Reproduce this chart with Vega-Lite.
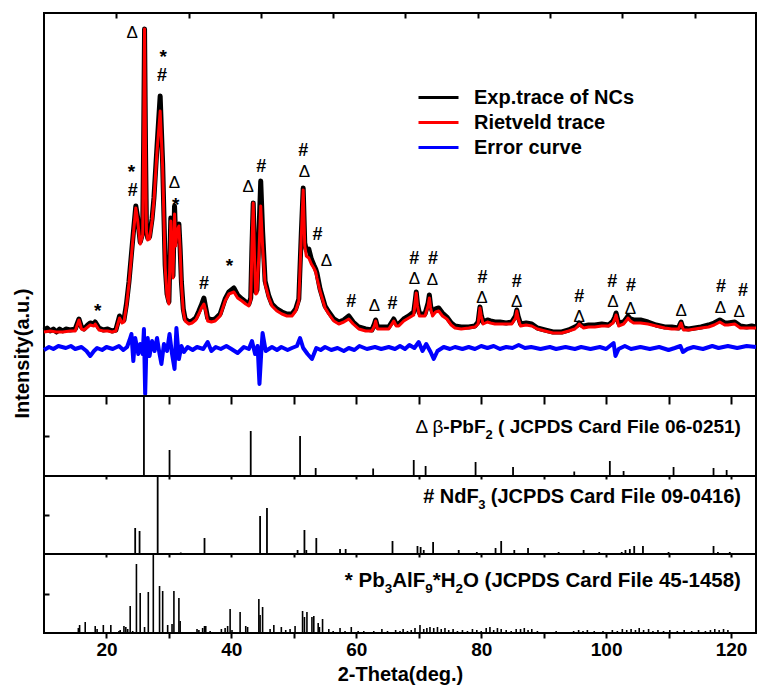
{
"$schema": "https://vega.github.io/schema/vega-lite/v6.json",
"background": "white",
"padding": {"left": 11, "top": 11, "right": 0, "bottom": 0},
"bounds": "flush",
"spacing": 0,
"config": {
 "font": "Liberation Sans",
 "view": {"stroke": "black", "strokeWidth": 2},
 "axis": {"domain": false, "grid": false, "tickColor": "black", "tickWidth": 2, "labelColor": "black", "titleColor": "black", "labelFont": "Liberation Sans", "titleFont": "Liberation Sans", "minExtent": 0},
 "text": {"font": "Liberation Sans", "color": "black"}
},
"datasets": {
 "exp": [{"t":10,"i":66},{"t":10.5,"i":68},{"t":11,"i":65},{"t":11.5,"i":67},{"t":12,"i":64},{"t":12.5,"i":67},{"t":13,"i":65},{"t":13.5,"i":67},{"t":14.2,"i":66},{"t":15,"i":67},{"t":15.6,"i":77},{"t":16.0,"i":69},{"t":16.4,"i":67},{"t":17.0,"i":71},{"t":17.4,"i":73},{"t":18.0,"i":72},{"t":18.2,"i":74},{"t":18.8,"i":68},{"t":19.5,"i":66},{"t":20.2,"i":67},{"t":20.9,"i":65},{"t":21.5,"i":66},{"t":22.1,"i":80},{"t":22.5,"i":75},{"t":22.8,"i":76},{"t":23.2,"i":92},{"t":23.6,"i":114},{"t":24.0,"i":142},{"t":24.4,"i":170},{"t":24.7,"i":190},{"t":25.0,"i":178},{"t":25.4,"i":154},{"t":25.8,"i":163},{"t":25.95,"i":250},{"t":26.1,"i":367},{"t":26.25,"i":250},{"t":26.4,"i":167},{"t":26.6,"i":158},{"t":26.9,"i":159},{"t":27.3,"i":177},{"t":27.6,"i":198},{"t":28.1,"i":250},{"t":28.6,"i":300},{"t":29.0,"i":232},{"t":29.4,"i":131},{"t":29.7,"i":102},{"t":30.0,"i":94},{"t":30.3,"i":178},{"t":30.5,"i":136},{"t":30.65,"i":120},{"t":30.9,"i":190},{"t":31.1,"i":155},{"t":31.3,"i":168},{"t":31.6,"i":172},{"t":31.8,"i":147},{"t":32.0,"i":114},{"t":32.3,"i":87},{"t":32.6,"i":77},{"t":33.2,"i":74},{"t":33.7,"i":75},{"t":34.3,"i":78},{"t":34.8,"i":85},{"t":35.2,"i":91},{"t":35.6,"i":98},{"t":35.9,"i":88},{"t":36.2,"i":78},{"t":36.8,"i":76},{"t":37.4,"i":77},{"t":38.2,"i":82},{"t":39.0,"i":97},{"t":39.6,"i":104},{"t":40.4,"i":108},{"t":41.0,"i":101},{"t":41.7,"i":97},{"t":42.3,"i":94},{"t":42.8,"i":92},{"t":43.1,"i":98},{"t":43.3,"i":150},{"t":43.5,"i":193},{"t":43.7,"i":142},{"t":43.9,"i":104},{"t":44.1,"i":106},{"t":44.4,"i":160},{"t":44.7,"i":215},{"t":45.0,"i":165},{"t":45.4,"i":115},{"t":46.0,"i":100},{"t":46.5,"i":92},{"t":47.3,"i":87},{"t":48.1,"i":84},{"t":48.9,"i":82},{"t":49.7,"i":82},{"t":50.3,"i":87},{"t":50.8,"i":97},{"t":51.2,"i":163},{"t":51.5,"i":208},{"t":51.75,"i":153},{"t":52.0,"i":146},{"t":52.4,"i":147},{"t":52.8,"i":137},{"t":53.2,"i":131},{"t":53.5,"i":127},{"t":53.7,"i":123},{"t":54.2,"i":107},{"t":55.0,"i":90},{"t":55.6,"i":84},{"t":56.4,"i":77},{"t":57.2,"i":74},{"t":58.0,"i":76},{"t":58.8,"i":80},{"t":59.5,"i":74},{"t":60.4,"i":69},{"t":61.5,"i":67},{"t":62.5,"i":66},{"t":62.9,"i":72},{"t":63.1,"i":76},{"t":63.4,"i":69},{"t":64.4,"i":69},{"t":65.2,"i":69},{"t":65.8,"i":75},{"t":66.0,"i":77},{"t":66.4,"i":72},{"t":66.8,"i":72},{"t":67.6,"i":77},{"t":68.4,"i":80},{"t":69.2,"i":84},{"t":69.45,"i":96},{"t":69.6,"i":104},{"t":69.8,"i":92},{"t":70.1,"i":83},{"t":70.5,"i":82},{"t":71.0,"i":82},{"t":71.5,"i":93},{"t":71.7,"i":101},{"t":71.9,"i":90},{"t":72.2,"i":84},{"t":72.7,"i":87},{"t":73.2,"i":88},{"t":73.8,"i":83},{"t":74.5,"i":79},{"t":75.2,"i":73},{"t":75.8,"i":70},{"t":76.8,"i":69},{"t":78.0,"i":69},{"t":79.0,"i":70},{"t":79.5,"i":74},{"t":79.7,"i":84},{"t":79.8,"i":89},{"t":80.0,"i":81},{"t":80.3,"i":74},{"t":81.0,"i":76},{"t":81.5,"i":75},{"t":82.2,"i":74},{"t":83.0,"i":74},{"t":84.0,"i":73},{"t":84.9,"i":74},{"t":85.5,"i":80},{"t":85.7,"i":86},{"t":85.9,"i":80},{"t":86.3,"i":72},{"t":87.2,"i":73},{"t":88.1,"i":72},{"t":89.0,"i":68},{"t":90.2,"i":66},{"t":91.5,"i":64},{"t":92.9,"i":64},{"t":94.0,"i":66},{"t":95.0,"i":69},{"t":95.5,"i":71},{"t":95.7,"i":73},{"t":96.0,"i":71},{"t":96.4,"i":70},{"t":97.2,"i":71},{"t":98.2,"i":71},{"t":99.3,"i":72},{"t":100.4,"i":71},{"t":101.1,"i":75},{"t":101.4,"i":79},{"t":101.6,"i":83},{"t":101.8,"i":78},{"t":102.0,"i":73},{"t":102.8,"i":74},{"t":103.3,"i":78},{"t":103.5,"i":80},{"t":103.9,"i":77},{"t":104.4,"i":76},{"t":105.5,"i":76},{"t":106.7,"i":74},{"t":108.0,"i":71},{"t":109.4,"i":69},{"t":110.5,"i":69},{"t":111.6,"i":68},{"t":111.85,"i":72},{"t":112.0,"i":74},{"t":112.2,"i":70},{"t":112.4,"i":68},{"t":113.2,"i":67},{"t":114.2,"i":68},{"t":115.2,"i":69},{"t":116.4,"i":71},{"t":117.3,"i":73},{"t":118.2,"i":76},{"t":119.0,"i":73},{"t":119.5,"i":73},{"t":120.6,"i":74},{"t":121.5,"i":70},{"t":122.5,"i":69},{"t":123.3,"i":70},{"t":124.0,"i":69}],
 "riet": [{"t":10,"i":64},{"t":11,"i":65},{"t":12,"i":64},{"t":13,"i":64},{"t":14.2,"i":65},{"t":15,"i":65},{"t":15.6,"i":76},{"t":16.0,"i":67},{"t":16.4,"i":66},{"t":17.0,"i":69},{"t":17.4,"i":71},{"t":18.0,"i":70},{"t":18.2,"i":72},{"t":18.8,"i":66},{"t":19.5,"i":65},{"t":20.2,"i":65},{"t":20.9,"i":64},{"t":21.5,"i":65},{"t":22.1,"i":78},{"t":22.5,"i":73},{"t":22.8,"i":74},{"t":23.2,"i":90},{"t":23.6,"i":112},{"t":24.0,"i":140},{"t":24.4,"i":168},{"t":24.7,"i":188},{"t":25.0,"i":175},{"t":25.4,"i":152},{"t":25.8,"i":161},{"t":25.95,"i":250},{"t":26.1,"i":367},{"t":26.25,"i":250},{"t":26.4,"i":165},{"t":26.6,"i":156},{"t":26.9,"i":157},{"t":27.3,"i":175},{"t":27.6,"i":195},{"t":28.1,"i":245},{"t":28.6,"i":285},{"t":29.0,"i":228},{"t":29.4,"i":128},{"t":29.7,"i":100},{"t":30.0,"i":92},{"t":30.3,"i":175},{"t":30.5,"i":135},{"t":30.65,"i":118},{"t":30.9,"i":182},{"t":31.1,"i":150},{"t":31.3,"i":165},{"t":31.6,"i":170},{"t":31.8,"i":145},{"t":32.0,"i":112},{"t":32.3,"i":85},{"t":32.6,"i":75},{"t":33.2,"i":72},{"t":33.7,"i":73},{"t":34.3,"i":76},{"t":34.8,"i":82},{"t":35.2,"i":88},{"t":35.6,"i":92},{"t":35.9,"i":85},{"t":36.2,"i":75},{"t":36.8,"i":74},{"t":37.4,"i":75},{"t":38.2,"i":80},{"t":39.0,"i":95},{"t":39.6,"i":102},{"t":40.4,"i":104},{"t":41.0,"i":98},{"t":41.7,"i":95},{"t":42.3,"i":92},{"t":42.8,"i":90},{"t":43.1,"i":96},{"t":43.3,"i":150},{"t":43.5,"i":193},{"t":43.7,"i":140},{"t":43.9,"i":102},{"t":44.1,"i":103},{"t":44.4,"i":140},{"t":44.7,"i":190},{"t":45.0,"i":150},{"t":45.4,"i":112},{"t":46.0,"i":98},{"t":46.5,"i":90},{"t":47.3,"i":85},{"t":48.1,"i":82},{"t":48.9,"i":80},{"t":49.7,"i":80},{"t":50.3,"i":85},{"t":50.8,"i":95},{"t":51.2,"i":160},{"t":51.5,"i":206},{"t":51.75,"i":150},{"t":52.0,"i":140},{"t":52.4,"i":138},{"t":52.8,"i":132},{"t":53.2,"i":128},{"t":53.5,"i":124},{"t":53.7,"i":118},{"t":54.2,"i":105},{"t":55.0,"i":88},{"t":55.6,"i":82},{"t":56.4,"i":75},{"t":57.2,"i":72},{"t":58.0,"i":74},{"t":58.8,"i":77},{"t":59.5,"i":72},{"t":60.4,"i":67},{"t":61.5,"i":65},{"t":62.5,"i":65},{"t":62.9,"i":70},{"t":63.1,"i":75},{"t":63.4,"i":67},{"t":64.4,"i":67},{"t":65.2,"i":67},{"t":65.8,"i":73},{"t":66.0,"i":75},{"t":66.4,"i":70},{"t":66.8,"i":70},{"t":67.6,"i":75},{"t":68.4,"i":78},{"t":69.2,"i":81},{"t":69.45,"i":95},{"t":69.6,"i":103},{"t":69.8,"i":90},{"t":70.1,"i":80},{"t":70.5,"i":80},{"t":71.0,"i":80},{"t":71.5,"i":90},{"t":71.7,"i":98},{"t":71.9,"i":88},{"t":72.2,"i":80},{"t":72.7,"i":84},{"t":73.2,"i":85},{"t":73.8,"i":80},{"t":74.5,"i":77},{"t":75.2,"i":71},{"t":75.8,"i":68},{"t":76.8,"i":67},{"t":78.0,"i":68},{"t":79.0,"i":69},{"t":79.5,"i":72},{"t":79.7,"i":82},{"t":79.8,"i":88},{"t":80.0,"i":80},{"t":80.3,"i":72},{"t":81.0,"i":74},{"t":81.5,"i":73},{"t":82.2,"i":72},{"t":83.0,"i":72},{"t":84.0,"i":72},{"t":84.9,"i":72},{"t":85.5,"i":78},{"t":85.7,"i":85},{"t":85.9,"i":78},{"t":86.3,"i":70},{"t":87.2,"i":71},{"t":88.1,"i":70},{"t":89.0,"i":67},{"t":90.2,"i":65},{"t":91.5,"i":63},{"t":92.9,"i":63},{"t":94.0,"i":65},{"t":95.0,"i":67},{"t":95.5,"i":70},{"t":95.7,"i":72},{"t":96.0,"i":70},{"t":96.4,"i":68},{"t":97.2,"i":69},{"t":98.2,"i":69},{"t":99.3,"i":70},{"t":100.4,"i":70},{"t":101.1,"i":73},{"t":101.4,"i":77},{"t":101.6,"i":81},{"t":101.8,"i":76},{"t":102.0,"i":70},{"t":102.8,"i":72},{"t":103.3,"i":76},{"t":103.5,"i":78},{"t":103.9,"i":75},{"t":104.4,"i":73},{"t":105.5,"i":73},{"t":106.7,"i":72},{"t":108.0,"i":70},{"t":109.4,"i":68},{"t":110.5,"i":67},{"t":111.6,"i":67},{"t":111.85,"i":71},{"t":112.0,"i":73},{"t":112.2,"i":69},{"t":112.4,"i":66},{"t":113.2,"i":66},{"t":114.2,"i":67},{"t":115.2,"i":68},{"t":116.4,"i":69},{"t":117.3,"i":71},{"t":118.2,"i":74},{"t":119.0,"i":71},{"t":119.5,"i":71},{"t":120.6,"i":72},{"t":121.5,"i":68},{"t":122.5,"i":68},{"t":123.3,"i":68},{"t":124.0,"i":68}],
 "err": [{"t":10,"i":46},{"t":10.8,"i":49},{"t":11.5,"i":47},{"t":12.3,"i":50},{"t":13.5,"i":48},{"t":14.3,"i":50},{"t":15,"i":47},{"t":16,"i":49},{"t":16.8,"i":45},{"t":17.4,"i":40},{"t":18.0,"i":45},{"t":18.5,"i":48},{"t":19.3,"i":46},{"t":20,"i":49},{"t":21,"i":47},{"t":22,"i":50},{"t":22.7,"i":46},{"t":23.3,"i":49},{"t":23.7,"i":56},{"t":24.0,"i":62},{"t":24.3,"i":35},{"t":24.6,"i":58},{"t":25.1,"i":42},{"t":25.4,"i":52},{"t":25.8,"i":42},{"t":26.0,"i":67},{"t":26.2,"i":2},{"t":26.4,"i":50},{"t":26.6,"i":58},{"t":26.9,"i":40},{"t":27.3,"i":55},{"t":27.7,"i":45},{"t":28.1,"i":58},{"t":28.5,"i":42},{"t":28.8,"i":32},{"t":29.2,"i":52},{"t":29.7,"i":45},{"t":30.1,"i":62},{"t":30.5,"i":42},{"t":30.9,"i":27},{"t":31.2,"i":68},{"t":31.6,"i":37},{"t":32.0,"i":50},{"t":32.4,"i":44},{"t":33.0,"i":49},{"t":33.8,"i":46},{"t":34.5,"i":49},{"t":35.5,"i":47},{"t":36.2,"i":54},{"t":36.8,"i":45},{"t":37.5,"i":49},{"t":38.3,"i":47},{"t":39.2,"i":50},{"t":40.0,"i":47},{"t":41.0,"i":43},{"t":42.0,"i":49},{"t":42.8,"i":47},{"t":43.3,"i":55},{"t":43.8,"i":42},{"t":44.2,"i":50},{"t":44.5,"i":12},{"t":44.8,"i":45},{"t":45.0,"i":63},{"t":45.5,"i":45},{"t":46.5,"i":49},{"t":47.3,"i":46},{"t":48.0,"i":49},{"t":49.0,"i":46},{"t":49.7,"i":48},{"t":50.5,"i":50},{"t":51.0,"i":58},{"t":51.5,"i":48},{"t":52.2,"i":42},{"t":52.9,"i":37},{"t":53.6,"i":48},{"t":54.3,"i":46},{"t":55.0,"i":49},{"t":56.0,"i":46},{"t":57.0,"i":48},{"t":58.0,"i":45},{"t":58.8,"i":48},{"t":59.7,"i":46},{"t":60.5,"i":50},{"t":61.7,"i":47},{"t":63.0,"i":49},{"t":64.0,"i":47},{"t":65.2,"i":49},{"t":66.2,"i":47},{"t":67.0,"i":50},{"t":67.8,"i":47},{"t":68.5,"i":51},{"t":69.3,"i":48},{"t":70.0,"i":54},{"t":70.6,"i":45},{"t":71.2,"i":52},{"t":71.9,"i":44},{"t":72.4,"i":37},{"t":73.0,"i":45},{"t":74.0,"i":49},{"t":75.0,"i":47},{"t":75.8,"i":49},{"t":77.0,"i":47},{"t":78.0,"i":49},{"t":79.0,"i":47},{"t":80.0,"i":50},{"t":81.0,"i":48},{"t":82.0,"i":50},{"t":83.0,"i":47},{"t":84.0,"i":49},{"t":85.0,"i":48},{"t":86.0,"i":51},{"t":87.0,"i":48},{"t":88.0,"i":49},{"t":89.5,"i":47},{"t":91.0,"i":49},{"t":92.0,"i":47},{"t":93.5,"i":49},{"t":95.0,"i":47},{"t":96.0,"i":49},{"t":97.5,"i":47},{"t":99.0,"i":49},{"t":100.0,"i":47},{"t":101.2,"i":53},{"t":101.5,"i":40},{"t":102.0,"i":47},{"t":103.0,"i":50},{"t":104.0,"i":47},{"t":105.5,"i":49},{"t":107.0,"i":47},{"t":108.5,"i":49},{"t":110.0,"i":46},{"t":111.0,"i":48},{"t":111.9,"i":50},{"t":112.3,"i":44},{"t":113.0,"i":47},{"t":114.0,"i":49},{"t":115.5,"i":47},{"t":117.0,"i":50},{"t":118.0,"i":48},{"t":119.5,"i":50},{"t":121.0,"i":48},{"t":122.5,"i":50},{"t":124.0,"i":49}],
 "marks": [{"t":18.6,"i":90,"m":"*"},{"t":24.0,"i":229,"m":"*"},{"t":24.2,"i":205,"m":"#"},{"t":24.1,"i":363,"m":"Δ"},{"t":29.1,"i":344,"m":"*"},{"t":28.9,"i":320,"m":"#"},{"t":30.9,"i":213,"m":"Δ"},{"t":31.1,"i":196,"m":"*"},{"t":35.6,"i":112,"m":"#"},{"t":39.7,"i":135,"m":"*"},{"t":42.7,"i":209,"m":"Δ"},{"t":44.8,"i":229,"m":"#"},{"t":51.5,"i":245,"m":"#"},{"t":51.7,"i":224,"m":"Δ"},{"t":53.8,"i":161,"m":"#"},{"t":55.2,"i":135,"m":"Δ"},{"t":59.2,"i":94,"m":"#"},{"t":62.9,"i":90,"m":"Δ"},{"t":65.8,"i":92,"m":"#"},{"t":69.3,"i":137,"m":"#"},{"t":69.3,"i":117,"m":"Δ"},{"t":72.3,"i":137,"m":"#"},{"t":72.2,"i":116,"m":"Δ"},{"t":80.2,"i":118,"m":"#"},{"t":80.1,"i":98,"m":"Δ"},{"t":85.7,"i":114,"m":"#"},{"t":85.7,"i":94,"m":"Δ"},{"t":95.7,"i":99,"m":"#"},{"t":95.7,"i":79,"m":"Δ"},{"t":101.0,"i":114,"m":"#"},{"t":101.1,"i":94,"m":"Δ"},{"t":104.0,"i":110,"m":"#"},{"t":103.9,"i":87,"m":"Δ"},{"t":112.0,"i":85,"m":"Δ"},{"t":118.4,"i":109,"m":"#"},{"t":118.3,"i":88,"m":"Δ"},{"t":121.9,"i":105,"m":"#"},{"t":121.3,"i":84,"m":"Δ"}],
 "pbf2": [{"t":26.0,"h":80},{"t":30.1,"h":26},{"t":43.1,"h":45},{"t":51.0,"h":40},{"t":53.5,"h":8},{"t":62.7,"h":7.5},{"t":69.2,"h":16},{"t":71.1,"h":10},{"t":79.1,"h":14},{"t":85.1,"h":9},{"t":94.9,"h":4.5},{"t":100.6,"h":15},{"t":102.8,"h":5},{"t":110.8,"h":9},{"t":117.2,"h":8},{"t":119.3,"h":6}],
 "ndf3": [{"t":24.6,"h":26},{"t":25.3,"h":23},{"t":28.2,"h":78},{"t":28.6,"h":1},{"t":31.9,"h":1.5},{"t":35.7,"h":16},{"t":44.6,"h":38},{"t":45.7,"h":46},{"t":46.9,"h":1},{"t":50.6,"h":4},{"t":51.7,"h":24},{"t":52.0,"h":4},{"t":53.6,"h":16},{"t":57.4,"h":5},{"t":58.3,"h":5},{"t":65.8,"h":13},{"t":69.8,"h":8},{"t":70.3,"h":7},{"t":70.8,"h":4},{"t":72.3,"h":12},{"t":76.4,"h":4},{"t":79.3,"h":2},{"t":82.3,"h":6},{"t":83.2,"h":13},{"t":85.3,"h":4},{"t":87.5,"h":6},{"t":92.4,"h":2},{"t":96.4,"h":4},{"t":98.9,"h":2},{"t":102.5,"h":2},{"t":103.1,"h":4},{"t":103.8,"h":5},{"t":104.5,"h":8},{"t":105.9,"h":8},{"t":110.0,"h":2},{"t":117.2,"h":8},{"t":117.9,"h":2},{"t":119.8,"h":2}],
 "pb": [{"t":15.5,"h":5},{"t":15.7,"h":8},{"t":16.6,"h":11},{"t":18.2,"h":7},{"t":18.5,"h":4},{"t":19.5,"h":8},{"t":20.7,"h":8},{"t":22.0,"h":2},{"t":22.2,"h":3},{"t":22.8,"h":7},{"t":23.1,"h":6},{"t":23.4,"h":4},{"t":23.8,"h":27},{"t":24.2,"h":2},{"t":24.8,"h":69},{"t":25.4,"h":40},{"t":26.1,"h":6},{"t":26.7,"h":41},{"t":27.5,"h":79},{"t":28.5,"h":47},{"t":29.0,"h":42},{"t":29.8,"h":8},{"t":30.5,"h":9},{"t":30.8,"h":42},{"t":31.6,"h":35},{"t":31.8,"h":12},{"t":34.5,"h":4},{"t":34.8,"h":3},{"t":35.4,"h":5},{"t":35.7,"h":7},{"t":35.9,"h":7},{"t":36.6,"h":2},{"t":38.4,"h":4},{"t":39.0,"h":5},{"t":39.4,"h":7},{"t":39.8,"h":24},{"t":40.1,"h":3},{"t":41.4,"h":21},{"t":42.3,"h":7},{"t":42.6,"h":6},{"t":44.4,"h":34},{"t":44.6,"h":18},{"t":45.0,"h":26},{"t":46.2,"h":4},{"t":46.8,"h":8},{"t":48.0,"h":6},{"t":48.7,"h":3},{"t":49.4,"h":4},{"t":50.2,"h":7},{"t":51.4,"h":22},{"t":51.7,"h":16},{"t":52.1,"h":21},{"t":52.9,"h":16},{"t":53.2,"h":17},{"t":53.9,"h":10},{"t":54.1,"h":6},{"t":54.6,"h":14},{"t":55.6,"h":4},{"t":56.3,"h":2},{"t":57.4,"h":5},{"t":58.2,"h":2},{"t":59.2,"h":6},{"t":60.3,"h":2},{"t":61.2,"h":2},{"t":62.8,"h":2},{"t":64.1,"h":4},{"t":65.0,"h":2},{"t":66.3,"h":3},{"t":67.0,"h":2},{"t":67.5,"h":4},{"t":68.2,"h":2},{"t":68.8,"h":3},{"t":69.4,"h":5},{"t":70.2,"h":8},{"t":70.8,"h":4},{"t":71.3,"h":5},{"t":71.8,"h":6},{"t":72.4,"h":5},{"t":73.0,"h":6},{"t":73.6,"h":4},{"t":74.2,"h":5},{"t":74.8,"h":3},{"t":75.5,"h":4},{"t":76.2,"h":2},{"t":77.0,"h":3},{"t":77.8,"h":2},{"t":78.6,"h":4},{"t":79.3,"h":3},{"t":80.0,"h":2},{"t":80.8,"h":5},{"t":81.4,"h":6},{"t":82.0,"h":3},{"t":82.6,"h":5},{"t":83.2,"h":4},{"t":84.0,"h":3},{"t":84.8,"h":2},{"t":85.6,"h":4},{"t":86.3,"h":4},{"t":86.9,"h":5},{"t":87.5,"h":3},{"t":88.1,"h":4},{"t":89.0,"h":2},{"t":90.5,"h":1},{"t":92.0,"h":2},{"t":93.5,"h":1},{"t":94.8,"h":2},{"t":95.6,"h":3},{"t":96.3,"h":2},{"t":97.0,"h":3},{"t":98.1,"h":2},{"t":99.5,"h":2},{"t":101.0,"h":3},{"t":101.8,"h":2},{"t":102.6,"h":4},{"t":103.3,"h":3},{"t":104.0,"h":4},{"t":104.7,"h":3},{"t":105.3,"h":5},{"t":106.0,"h":3},{"t":106.8,"h":4},{"t":107.5,"h":2},{"t":108.3,"h":3},{"t":109.2,"h":2},{"t":110.2,"h":3},{"t":111.4,"h":2},{"t":112.5,"h":3},{"t":113.7,"h":2},{"t":114.8,"h":3},{"t":115.9,"h":2},{"t":116.7,"h":3},{"t":117.4,"h":4},{"t":118.1,"h":3},{"t":118.8,"h":4},{"t":119.5,"h":3}],
 "labels": [{"p":2,"t":121.59,"y":49,"s":"( JCPDS Card File 06-0251)","k":"b"},{"p":2,"t":81.85,"y":41,"s":"2","k":"sub"},{"p":2,"t":80.70,"y":49,"s":"-PbF","k":"b"},{"p":2,"t":73.94,"y":49,"s":"Δ β","k":"n"},{"p":3,"t":121.59,"y":57,"s":"(JCPDS Card File 09-0416)","k":"b"},{"p":3,"t":80.67,"y":49,"s":"3","k":"sub"},{"p":3,"t":79.60,"y":57,"s":"# NdF","k":"b"},{"p":4,"t":121.59,"y":52,"s":"O (JCPDS Card File 45-1458)","k":"b"},{"p":4,"t":77.08,"y":44,"s":"2","k":"sub"},{"p":4,"t":75.88,"y":52,"s":"*H","k":"b"},{"p":4,"t":72.23,"y":44,"s":"9","k":"sub"},{"p":4,"t":71.03,"y":52,"s":"AlF","k":"b"},{"p":4,"t":65.75,"y":44,"s":"3","k":"sub"},{"p":4,"t":64.55,"y":52,"s":"* Pb","k":"b"}]
},
"vconcat": [
 {
  "width": 712, "height": 383,
  "resolve": {"axis": {"x": "independent"}},
  "layer": [
   {"layer": [
    {"data": {"name": "exp"}, "mark": {"type": "line", "strokeWidth": 5, "strokeJoin": "round"},
     "encoding": {
      "x": {"field": "t", "type": "quantitative", "scale": {"domain": [10, 124], "nice": false, "zero": false}, "axis": {"orient": "bottom", "title": null, "labels": false, "values": [20,30,40,50,60,70,80,90,100,110,120], "tickSize": 8}},
      "y": {"field": "i", "type": "quantitative", "scale": {"domain": [0, 383], "nice": false}, "axis": {"title": "Intensity(a.u.)", "labels": false, "ticks": false, "titleFontSize": 20, "titleFontWeight": "bold", "titleY": 340, "titlePadding": 12}},
      "color": {"datum": "Exp.trace of NCs", "scale": {"domain": ["Exp.trace of NCs", "Rietveld trace", "Error curve"], "range": ["#000000", "#ff0000", "#0000ff"]},
       "legend": {"title": null, "orient": "none", "legendX": 383, "legendY": 73, "padding": 0, "symbolType": "M-2,0H2", "symbolSize": 400, "symbolStrokeWidth": 3, "symbolFillColor": "transparent", "labelFontSize": 20, "labelFontWeight": "bold", "labelColor": "black", "labelFont": "Liberation Sans", "labelOffset": 24, "rowPadding": 3, "labelLimit": 400}}
     }},
    {"data": {"name": "riet"}, "mark": {"type": "line", "strokeWidth": 3, "strokeJoin": "round"},
     "encoding": {
      "x": {"field": "t", "type": "quantitative"},
      "y": {"field": "i", "type": "quantitative"},
      "color": {"datum": "Rietveld trace"}
     }},
    {"data": {"name": "err"}, "mark": {"type": "line", "strokeWidth": 4, "strokeJoin": "round"},
     "encoding": {
      "x": {"field": "t", "type": "quantitative"},
      "y": {"field": "i", "type": "quantitative"},
      "color": {"datum": "Error curve"}
     }},
    {"data": {"name": "marks"}, "transform": [{"filter": "datum.m == '#'"}], "mark": {"type": "text", "fontSize": 18, "fontWeight": "bold", "baseline": "middle"},
     "encoding": {
      "x": {"field": "t", "type": "quantitative"},
      "y": {"field": "i", "type": "quantitative"},
      "text": {"field": "m"}
     }},
    {"data": {"name": "marks"}, "transform": [{"filter": "datum.m == '*'"}], "mark": {"type": "text", "fontSize": 19, "fontWeight": "bold", "baseline": "middle", "dy": 5},
     "encoding": {
      "x": {"field": "t", "type": "quantitative"},
      "y": {"field": "i", "type": "quantitative"},
      "text": {"field": "m"}
     }}
   ]},
   {"data": {"name": "marks"}, "transform": [{"filter": "datum.m == 'Δ'"}], "mark": {"type": "text", "fontSize": 17, "fontWeight": "normal", "baseline": "middle"},
    "encoding": {
     "x": {"field": "t", "type": "quantitative", "axis": {"orient": "top", "title": null, "labels": false, "values": [21.57,33.15,44.73,56.3,67.88,79.46,91.03,102.6,114.2], "tickSize": -5}},
     "y": {"field": "i", "type": "quantitative"},
     "text": {"field": "m"}
    }}
  ]
 },
 {
  "width": 712, "height": 80,
  "layer": [
   {"data": {"name": "pbf2"}, "mark": {"type": "rule", "strokeWidth": 1.8, "color": "black"},
    "encoding": {
     "x": {"field": "t", "type": "quantitative", "scale": {"domain": [10, 124], "nice": false, "zero": false}, "axis": {"title": null, "labels": false, "values": [20,30,40,50,60,70,80,90,100,110,120], "tickSize": 3}},
     "y": {"field": "h", "type": "quantitative", "scale": {"domain": [0, 80], "nice": false}, "axis": {"title": null, "labels": false, "values": [40], "tickSize": -5}},
     "y2": {"datum": 0}
    }},
   {"data": {"name": "labels"}, "transform": [{"filter": "datum.p == 2 && datum.k == 'b'"}], "mark": {"type": "text", "align": "right", "baseline": "middle", "fontSize": 19, "fontWeight": "bold"},
    "encoding": {"x": {"field": "t", "type": "quantitative"}, "y": {"field": "y", "type": "quantitative"}, "text": {"field": "s"}}},
   {"data": {"name": "labels"}, "transform": [{"filter": "datum.p == 2 && datum.k == 'n'"}], "mark": {"type": "text", "align": "right", "baseline": "middle", "fontSize": 19, "fontWeight": "normal"},
    "encoding": {"x": {"field": "t", "type": "quantitative"}, "y": {"field": "y", "type": "quantitative"}, "text": {"field": "s"}}},
   {"data": {"name": "labels"}, "transform": [{"filter": "datum.p == 2 && datum.k == 'sub'"}], "mark": {"type": "text", "align": "right", "baseline": "middle", "fontSize": 13, "fontWeight": "bold"},
    "encoding": {"x": {"field": "t", "type": "quantitative"}, "y": {"field": "y", "type": "quantitative"}, "text": {"field": "s"}}}
  ]
 },
 {
  "width": 712, "height": 78,
  "layer": [
   {"data": {"name": "ndf3"}, "mark": {"type": "rule", "strokeWidth": 1.8, "color": "black"},
    "encoding": {
     "x": {"field": "t", "type": "quantitative", "scale": {"domain": [10, 124], "nice": false, "zero": false}, "axis": {"title": null, "labels": false, "values": [20,30,40,50,60,70,80,90,100,110,120], "tickSize": 3}},
     "y": {"field": "h", "type": "quantitative", "scale": {"domain": [0, 78], "nice": false}, "axis": {"title": null, "labels": false, "values": [39], "tickSize": -5}},
     "y2": {"datum": 0}
    }},
   {"data": {"name": "labels"}, "transform": [{"filter": "datum.p == 3 && datum.k == 'b'"}], "mark": {"type": "text", "align": "right", "baseline": "middle", "fontSize": 20, "fontWeight": "bold"},
    "encoding": {"x": {"field": "t", "type": "quantitative"}, "y": {"field": "y", "type": "quantitative"}, "text": {"field": "s"}}},
   {"data": {"name": "labels"}, "transform": [{"filter": "datum.p == 3 && datum.k == 'sub'"}], "mark": {"type": "text", "align": "right", "baseline": "middle", "fontSize": 13, "fontWeight": "bold"},
    "encoding": {"x": {"field": "t", "type": "quantitative"}, "y": {"field": "y", "type": "quantitative"}, "text": {"field": "s"}}}
  ]
 },
 {
  "width": 712, "height": 79,
  "layer": [
   {"data": {"name": "pb"}, "mark": {"type": "rule", "strokeWidth": 1.6, "color": "black"},
    "encoding": {
     "x": {"field": "t", "type": "quantitative", "scale": {"domain": [10, 124], "nice": false, "zero": false}, "axis": {"title": "2-Theta(deg.)", "values": [20,30,40,50,60,70,80,90,100,110,120], "labelExpr": "datum.value % 20 == 0 ? datum.label : ''", "labelFontSize": 19, "labelFontWeight": "bold", "labelPadding": 2, "labelOverlap": false, "labelFlush": false, "tickSize": 5, "titleFontSize": 20, "titleFontWeight": "bold", "titlePadding": 5}},
     "y": {"field": "h", "type": "quantitative", "scale": {"domain": [0, 79], "nice": false}, "axis": {"title": null, "labels": false, "values": [39.5], "tickSize": -5}},
     "y2": {"datum": 0}
    }},
   {"data": {"name": "labels"}, "transform": [{"filter": "datum.p == 4 && datum.k == 'b'"}], "mark": {"type": "text", "align": "right", "baseline": "middle", "fontSize": 20.5, "fontWeight": "bold"},
    "encoding": {"x": {"field": "t", "type": "quantitative"}, "y": {"field": "y", "type": "quantitative"}, "text": {"field": "s"}}},
   {"data": {"name": "labels"}, "transform": [{"filter": "datum.p == 4 && datum.k == 'sub'"}], "mark": {"type": "text", "align": "right", "baseline": "middle", "fontSize": 13.5, "fontWeight": "bold"},
    "encoding": {"x": {"field": "t", "type": "quantitative"}, "y": {"field": "y", "type": "quantitative"}, "text": {"field": "s"}}}
  ]
 }
]
}
